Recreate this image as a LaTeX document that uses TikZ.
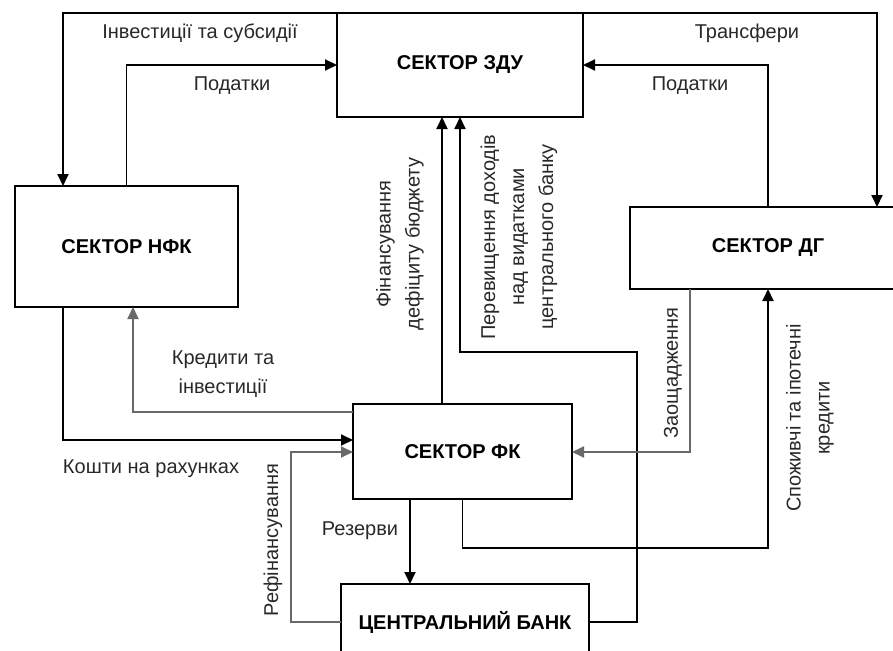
\documentclass[tikz,border=0pt]{standalone}
\usepackage{fontspec}
\setmainfont{Liberation Sans}
\usetikzlibrary{arrows.meta,positioning}
\definecolor{flowgray}{RGB}{105,105,105}
\definecolor{labelgray}{RGB}{40,40,40}

\begin{document}
\begin{tikzpicture}[x=1pt,y=-1pt,>={Triangle[length=12pt,width=11pt]},
 sector/.style={draw,line width=2pt,inner sep=0pt,outer sep=0pt,
   font=\bfseries\fontsize{20}{24}\selectfont},
 flow/.style={->,line width=1.9pt},
 flowg/.style={flow,draw=flowgray},
 lbl/.style={inner sep=0pt,text=labelgray,align=center,
   font=\fontsize{20}{29}\selectfont},
 vlbl/.style={lbl,rotate=90}]
 \useasboundingbox (0,0) rectangle (893,650);
 % sectors
 \node[sector,minimum width=246pt,minimum height=104pt] (zdu) at (460,65) {СЕКТОР ЗДУ};
 \node[sector,minimum width=223pt,minimum height=121pt] (nfk) at (126.5,246.5) {СЕКТОР НФК};
 \node[sector,minimum width=276pt,minimum height=82pt] (dg) at (768,248) {СЕКТОР ДГ};
 \node[sector,minimum width=219pt,minimum height=95pt] (fk) at (462.5,451.5) {СЕКТОР ФК};
 \node[sector,minimum width=248pt,minimum height=76pt] (cb) at (465,622) {ЦЕНТРАЛЬНИЙ БАНК};
 % columns and rows of the flows
 \coordinate (lx) at (63,0);
 \coordinate (trx) at (877,0);
 \coordinate (finx) at (442,0);
 \coordinate (crdx) at (133,0);
 \coordinate (resx) at (410,0);
 \coordinate (refx) at (291,0);
 \coordinate (savx) at (690,0);
 \coordinate (ovrx) at (637,0);
 \coordinate (taxy) at (0,65);
 \coordinate (ovry) at (0,352);
 \coordinate (crdy) at (0,412);
 \coordinate (accy) at (0,440);
 \coordinate (refy) at (0,452);
 \coordinate (lony) at (0,548);
 % flows
 \draw[flow] (zdu.north west) -| (nfk.north -| lx);
 \draw[flow] (nfk.north) |- (zdu.west |- taxy);
 \draw[flow] (zdu.north east) -| (dg.north -| trx);
 \draw[flow] (dg.north) |- (zdu.east |- taxy);
 \draw[flow] (fk.north -| finx) -- (zdu.south -| finx);
 \draw[flow] (cb.east) -| (ovrx |- ovry) -| (zdu.south);
 \draw[flowg] (fk.west |- crdy) -| (nfk.south -| crdx);
 \draw[flow] (nfk.south -| lx) |- (fk.west |- accy);
 \draw[flowg] (cb.west) -| (refx |- refy) -- (fk.west |- refy);
 \draw[flow] (fk.south -| resx) -- (cb.north -| resx);
 \draw[flowg] (dg.south -| savx) |- (fk.east |- refy);
 \draw[flow] (fk.south) |- (dg.south |- lony) -- (dg.south);
 % labels
 \node[lbl] (linv) at (200,33) {Інвестиції та субсидії};
 \node[lbl] (ltaxl) at (232,86) {Податки};
 \node[lbl] (ltrf) at (747,33) {Трансфери};
 \node[lbl] (ltaxr) at (690,86) {Податки};
 \node[vlbl] (lfin) at (400,244) {Фінансування\\дефіциту бюджету};
 \node[vlbl] (lovr) at (519,237) {Перевищення доходів\\над видатками\\центрального банку};
 \node[lbl] (lcrd) at (223,374) {Кредити та\\інвестиції};
 \node[lbl] (lacc) at (151,469) {Кошти на рахунках};
 \node[vlbl] (lref) at (273,540) {Рефінансування};
 \node[lbl] (lres) at (360,531) {Резерви};
 \node[vlbl] (lsav) at (673,373) {Заощадження};
 \node[vlbl] (llon) at (810,418) {Споживчі та іпотечні\\кредити};
\end{tikzpicture}
\end{document}
